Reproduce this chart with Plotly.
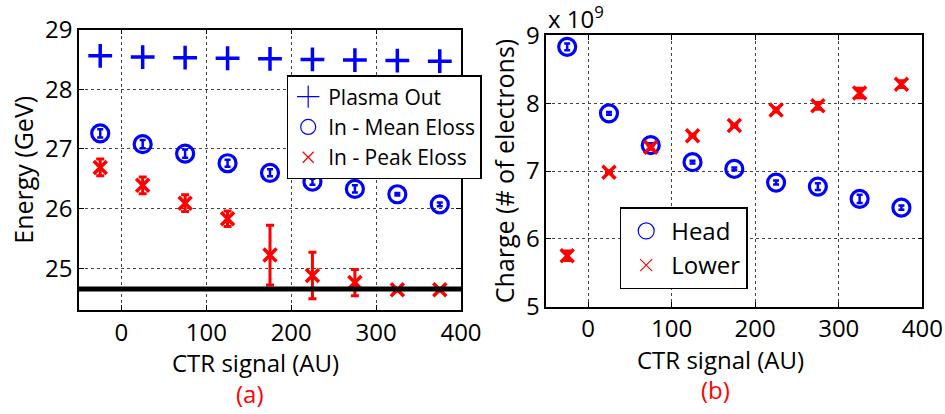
import plotly.graph_objects as go

# ---------------- data ----------------
ctr = [-25, 25, 75, 125, 175, 225, 275, 325, 375]

plasma_out = [28.56, 28.54, 28.53, 28.52, 28.51, 28.50, 28.49, 28.48, 28.47]
mean_eloss = [27.26, 27.08, 26.92, 26.76, 26.60, 26.45, 26.33, 26.24, 26.07]
mean_err = [0.07, 0.07, 0.07, 0.06, 0.06, 0.05, 0.06, 0.02, 0.03]
peak_eloss = [26.69, 26.39, 26.09, 25.83, 25.22, 24.88, 24.76, 24.64, 24.64]
peak_err = [0.14, 0.14, 0.14, 0.13, 0.50, 0.39, 0.22, 0.02, 0.02]
threshold = 24.65

head = [8.83, 7.85, 7.38, 7.13, 7.03, 6.83, 6.77, 6.59, 6.46]
head_err = [0.05, 0.02, 0.03, 0.02, 0.02, 0.03, 0.05, 0.06, 0.03]
lower = [5.75, 6.98, 7.35, 7.52, 7.67, 7.90, 7.96, 8.15, 8.28]
lower_err = [0.07, 0.02, 0.03, 0.02, 0.02, 0.03, 0.05, 0.07, 0.05]

x_ticks = [0, 100, 200, 300, 400]
e_ticks = [25, 26, 27, 28, 29]
q_ticks = [5, 6, 7, 8, 9]

BLUE = "#0000FF"
RED = "#FF0000"
FONT = "Open Sans"

W, H = 945, 414

fig = go.Figure()

# ---------------- panel (a) ----------------
fig.add_trace(go.Scatter(
    x=ctr, y=plasma_out, mode="markers", xaxis="x", yaxis="y", showlegend=False,
    marker=dict(symbol="cross-thin", size=17, color=BLUE, line=dict(color=BLUE, width=3.5)),
))
fig.add_trace(go.Scatter(
    x=ctr, y=mean_eloss, mode="markers", xaxis="x", yaxis="y", showlegend=False,
    marker=dict(symbol="circle-open", size=17, color=BLUE, line=dict(color=BLUE, width=3.2)),
    error_y=dict(type="data", array=mean_err, color=BLUE, thickness=2.5, width=3),
))
fig.add_trace(go.Scatter(
    x=ctr, y=peak_eloss, mode="markers", xaxis="x", yaxis="y", showlegend=False,
    marker=dict(symbol="x-thin", size=13, color=RED, line=dict(color=RED, width=3.5)),
    error_y=dict(type="data", array=peak_err, color=RED, thickness=3, width=4),
))
# legend entries (thin symbols)
fig.add_trace(go.Scatter(
    x=[None], y=[None], mode="markers", xaxis="x", yaxis="y", name="Plasma Out", legend="legend",
    marker=dict(symbol="cross-thin", size=16, color=BLUE, line=dict(color=BLUE, width=1.2)),
))
fig.add_trace(go.Scatter(
    x=[None], y=[None], mode="markers", xaxis="x", yaxis="y", name="In - Mean Eloss", legend="legend",
    marker=dict(symbol="circle-open", size=15, color=BLUE, line=dict(color=BLUE, width=1.2)),
))
fig.add_trace(go.Scatter(
    x=[None], y=[None], mode="markers", xaxis="x", yaxis="y", name="In - Peak Eloss", legend="legend",
    marker=dict(symbol="x-thin", size=11, color=RED, line=dict(color=RED, width=1.2)),
))

# ---------------- panel (b) ----------------
fig.add_trace(go.Scatter(
    x=ctr, y=head, mode="markers", xaxis="x2", yaxis="y2", showlegend=False,
    marker=dict(symbol="circle-open", size=17, color=BLUE, line=dict(color=BLUE, width=3.2)),
    error_y=dict(type="data", array=head_err, color=BLUE, thickness=2.5, width=3),
))
fig.add_trace(go.Scatter(
    x=ctr, y=lower, mode="markers", xaxis="x2", yaxis="y2", showlegend=False,
    marker=dict(symbol="x-thin", size=13, color=RED, line=dict(color=RED, width=3.5)),
    error_y=dict(type="data", array=lower_err, color=RED, thickness=3, width=4),
))
fig.add_trace(go.Scatter(
    x=[None], y=[None], mode="markers", xaxis="x2", yaxis="y2", name="Head", legend="legend2",
    marker=dict(symbol="circle-open", size=16, color=BLUE, line=dict(color=BLUE, width=1.2)),
))
fig.add_trace(go.Scatter(
    x=[None], y=[None], mode="markers", xaxis="x2", yaxis="y2", name="Lower", legend="legend2",
    marker=dict(symbol="x-thin", size=12, color=RED, line=dict(color=RED, width=1.2)),
))

axis_common = dict(
    showline=True, linecolor="black", linewidth=1.5, mirror="ticks",
    ticks="inside", ticklen=5, tickwidth=1, tickcolor="black",
    showgrid=True, gridcolor="#444444", gridwidth=1, griddash="dot",
    zeroline=False, automargin=False,
    tickfont=dict(family=FONT, size=24, color="black"),
)
title_font = dict(family=FONT, size=25, color="black")
xtitle_font = dict(family=FONT, size=24, color="black")

fig.update_layout(
    width=W, height=H,
    margin=dict(l=0, r=0, t=0, b=0, autoexpand=False),
    paper_bgcolor="white", plot_bgcolor="white",
    font=dict(family=FONT, color="black"),
    xaxis=dict(domain=[79 / W, 461 / W], range=[-50, 400], tickvals=x_ticks,
               anchor="y", **axis_common),
    yaxis=dict(domain=[1 - 310 / H, 1 - 29.6 / H], range=[24.3, 29], tickvals=e_ticks,
               anchor="x", **axis_common,
               title=dict(text="Energy (GeV)", font=title_font, standoff=4)),
    xaxis2=dict(domain=[546.3 / W, 922.3 / W], range=[-50, 400], tickvals=x_ticks,
                anchor="y2", **axis_common),
    yaxis2=dict(domain=[1 - 306.7 / H, 1 - 35.3 / H], range=[5, 9], tickvals=q_ticks,
                anchor="x2", **axis_common,
                title=dict(text="Charge (# of electrons)", font=title_font, standoff=4)),
    legend=dict(x=286.7 / W, y=1 - 75 / H, xanchor="left", yanchor="top",
                bgcolor="white", bordercolor="black", borderwidth=1.5,
                font=dict(family=FONT, size=21, color="black"),
                itemwidth=30, tracegroupgap=0),
    legend2=dict(x=619.7 / W, y=1 - 207.3 / H, xanchor="left", yanchor="top",
                 bgcolor="white", bordercolor="black", borderwidth=1.5,
                 font=dict(family=FONT, size=24, color="black"),
                 itemwidth=40, tracegroupgap=0),
    shapes=[dict(type="line", xref="x domain", yref="y", x0=0, x1=1.005,
                 y0=threshold, y1=threshold, line=dict(color="black", width=5))],
    annotations=[
        dict(text="CTR signal (AU)", xref="paper", yref="paper", x=255.7 / W, y=1 - 362 / H,
             xanchor="center", yanchor="middle", showarrow=False, font=xtitle_font),
        dict(text="CTR signal (AU)", xref="paper", yref="paper", x=720 / W, y=1 - 359 / H,
             xanchor="center", yanchor="middle", showarrow=False, font=xtitle_font),
        dict(text="(a)", xref="paper", yref="paper", x=250 / W, y=1 - 393 / H,
             xanchor="center", yanchor="middle",
             showarrow=False, font=dict(family=FONT, size=24, color=RED)),
        dict(text="(b)", xref="paper", yref="paper", x=715 / W, y=1 - 389 / H,
             xanchor="center", yanchor="middle",
             showarrow=False, font=dict(family=FONT, size=24, color=RED)),
        dict(text="x 10<sup>9</sup>", xref="paper", yref="paper", x=546 / W, y=1 - 37 / H,
             xanchor="left", yanchor="bottom", showarrow=False,
             font=dict(family=FONT, size=24, color="black")),
    ],
)

fig.write_html("out.html")
